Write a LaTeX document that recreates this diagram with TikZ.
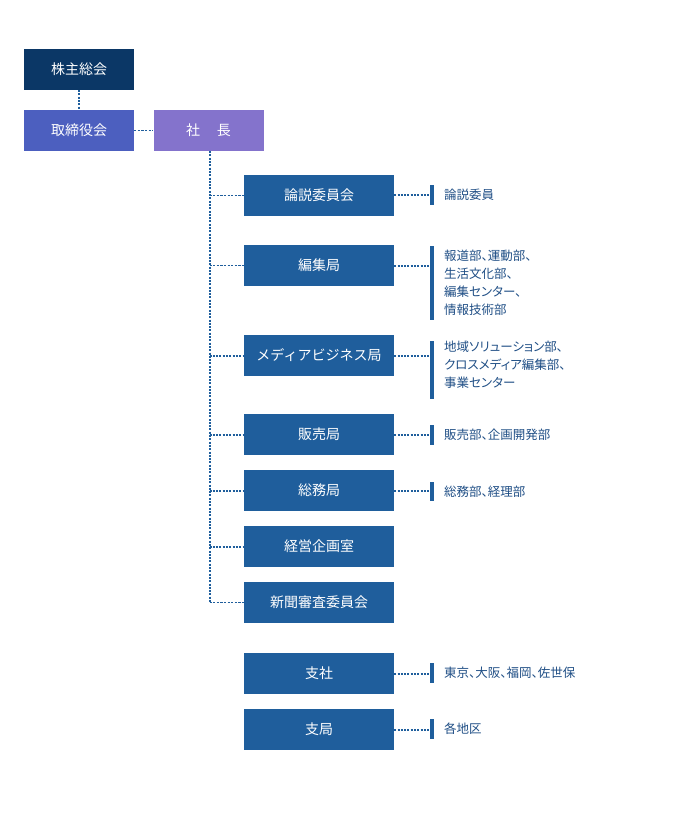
\documentclass[tikz,border=0pt]{standalone}
\usepackage{fontspec}
\setmainfont{Noto Sans CJK JP}
\newfontfamily\subfont[RawFeature=+palt]{Noto Sans CJK JP}
\begin{document}
\begin{tikzpicture}[x=1pt,y=-1pt,
  box/.style={fill=boxblue, text=white, minimum width=150pt, minimum height=41pt, inner sep=0pt, font=\fontsize{14}{16}\selectfont},
  topbox/.style={minimum width=110pt, minimum height=41pt, inner sep=0pt, text=white, font=\fontsize{14}{16}\selectfont},
  conn/.style={draw=boxblue, line width=2pt, dash pattern=on 2pt off 1.3pt},
  thin/.style={draw=boxblue, line width=1.2pt, dash pattern=on 2.2pt off 1.4pt},
  bar/.style={fill=boxblue, minimum width=4pt, inner sep=0pt},
  sub/.style={anchor=north west, text=subtext, inner sep=0pt, align=left, font=\subfont\fontsize{12.5}{18}\selectfont}]
\definecolor{boxblue}{HTML}{1F5E9C}
\definecolor{navy}{HTML}{0B3766}
\definecolor{board}{HTML}{4C5FBF}
\definecolor{pres}{HTML}{8473CC}
\definecolor{subtext}{HTML}{1F4E85}
\useasboundingbox (0,0) rectangle (676,818);
% top
\node[topbox, fill=navy] (kabu) at (79,69.5) {株主総会};
\node[topbox, fill=board] (tori) at (79,130.5) {取締役会};
\node[topbox, fill=pres] (sha) at (208.5,130.5) {社\hspace{1.2em}長};
\draw[conn] (kabu.south) -- (tori.north);
\draw[thin] (tori.east) -- (sha.west);
% departments
\node[box] (ron) at (319,195.5) {論説委員会};
\node[box] (hen) at (319,265.5) {編集局};
\node[box] (med) at (319,355.5) {メディアビジネス局};
\node[box] (han) at (319,434.5) {販売局};
\node[box] (som) at (319,490.5) {総務局};
\node[box] (kei) at (319,546.5) {経営企画室};
\node[box] (shi) at (319,602.5) {新聞審査委員会};
\node[box] (sis) at (319,673.5) {支社};
\node[box] (sik) at (319,729.5) {支局};
% trunk
\coordinate (t1) at (209.5,195.5);
\coordinate (t2) at (209.5,265.5);
\coordinate (t3) at (209.5,355.5);
\coordinate (t4) at (209.5,434.5);
\coordinate (t5) at (209.5,490.5);
\coordinate (t6) at (209.5,546.5);
\coordinate (t7) at (209.5,602.5);
\draw[conn] (sha.south -| t1) -- (t7);
\draw[thin] (t1) -- (ron.west);
\draw[thin] (t2) -- (hen.west);
\draw[conn] (t3) -- (med.west);
\draw[conn] (t4) -- (han.west);
\draw[conn] (t5) -- (som.west);
\draw[conn] (t6) -- (kei.west);
\draw[thin] (t7) -- (shi.west);
% bars
\node[bar, minimum height=20pt] (b1) at (432,195) {};
\node[bar, minimum height=74pt] (b2) at (432,283) {};
\node[bar, minimum height=58pt] (b3) at (432,370) {};
\node[bar, minimum height=20pt] (b4) at (432,435) {};
\node[bar, minimum height=19pt] (b5) at (432,491.5) {};
\node[bar, minimum height=20pt] (b6) at (432,673) {};
\node[bar, minimum height=20pt] (b7) at (432,729) {};
\draw[conn] (ron.east) -- (ron.east -| b1.west);
\draw[conn] (hen.east) -- (hen.east -| b2.west);
\draw[conn] (med.east) -- (med.east -| b3.west);
\draw[conn] (han.east) -- (han.east -| b4.west);
\draw[conn] (som.east) -- (som.east -| b5.west);
\draw[conn] (sis.east) -- (sis.east -| b6.west);
\draw[conn] (sik.east) -- (sik.east -| b7.west);
% sub texts
\node[sub] (s1) at (444,189) {論説委員};
\node[sub] (s2) at (444,249.5) {報道部、運動部、\\生活文化部、\\編集センター、\\情報技術部};
\node[sub] (s3) at (444,340.5) {地域ソリューション部、\\クロスメディア編集部、\\事業センター};
\node[sub] (s4) at (444,428.5) {販売部、企画開発部};
\node[sub] (s5) at (444,485.5) {総務部、経理部};
\node[sub] (s6) at (444,667) {東京、大阪、福岡、佐世保};
\node[sub] (s7) at (444,723) {各地区};
\end{tikzpicture}
\end{document}
